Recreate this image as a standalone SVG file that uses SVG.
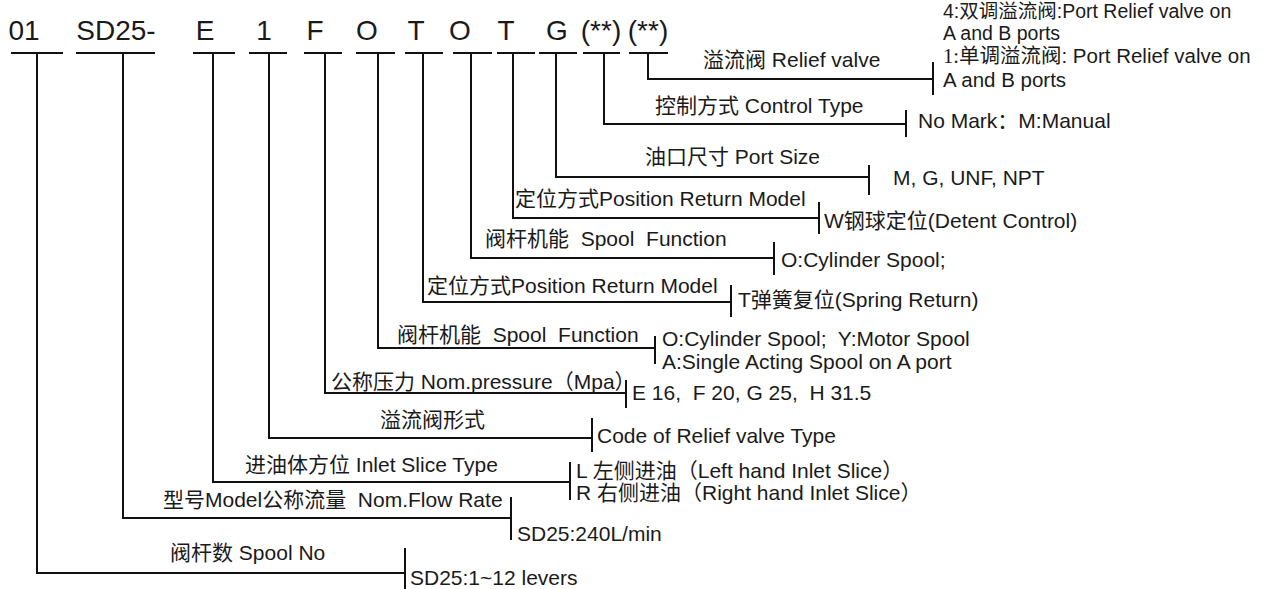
<svg xmlns="http://www.w3.org/2000/svg" width="1274" height="589" viewBox="0 0 1274 589">
<style>
.hd{font-family:"Liberation Sans",Arial,sans-serif;font-size:28px;fill:#1a1a1a;text-anchor:middle}
.t{font-family:"Liberation Sans","Noto Sans CJK SC",sans-serif;font-size:21px;fill:#1a1a1a}
.rv{font-size:20.5px}
.rs{font-size:19.5px}
.ln{stroke:#111;stroke-width:2;fill:none}
.sr{font-family:"Liberation Serif",serif}
</style>
<rect width="1274" height="589" fill="#fff"/>
<g id="code">
<text class="hd" x="24" y="40">01</text>
<text class="hd" x="116" y="40">SD25-</text>
<text class="hd" x="205" y="40">E</text>
<text class="hd" x="264" y="40">1</text>
<text class="hd" x="315" y="40">F</text>
<text class="hd" x="367" y="40">O</text>
<text class="hd" x="416" y="40">T</text>
<text class="hd" x="460" y="40">O</text>
<text class="hd" x="506" y="40">T</text>
<text class="hd" x="557" y="40">G</text>
<text class="hd" x="601" y="40">(**)</text>
<text class="hd" x="648" y="40">(**)</text>
</g>
<g id="connectors" class="ln">
<path d="M11 53H63M76 53H155M193 53H235M249 53H287M304 53H342M356 53H395M405 53H443M453 53H492M497 53H535M539 53H577M583 53H620M629 53H668"/>
<path d="M648 53V79H933M933 62V95"/>
<path d="M604 53V124H906M906 110V137"/>
<path d="M556 53V177H869M869 165V195"/>
<path d="M513 53V218H819M819 202V234"/>
<path d="M471 53V258H774M774 242V275"/>
<path d="M423 53V302H731M731 285V317"/>
<path d="M378 53V348H655M655 336V364"/>
<path d="M325 53V393H626M626 380V408"/>
<path d="M269 53V438H592M592 418V452"/>
<path d="M213 53V482H570M570 462V500"/>
<path d="M123 53V518H511M511 497V540"/>
<path d="M37 53V573H405M405 548V589"/>
</g>
<g id="relief">
<text class="t" x="703" y="67">溢流阀 Relief valve</text>
<text class="t rs" x="943" y="18">4:双调溢流阀:Port Relief valve on</text>
<text class="t rs" x="943" y="40">A and B ports</text>
<text class="t rv" x="943" y="63"><tspan class="sr">1:</tspan>单调溢流阀: Port Relief valve on</text>
<text class="t rv" x="943" y="87">A and B ports</text>
</g>
<g id="control">
<text class="t" x="655" y="113">控制方式 Control Type</text>
<text class="t" x="918" y="128">No Mark：M:Manual</text>
</g>
<g id="port">
<text class="t" x="645" y="164">油口尺寸 Port Size</text>
<text class="t" x="893" y="185">M, G, UNF, NPT</text>
</g>
<g id="position2">
<text class="t" x="515" y="206">定位方式Position Return Model</text>
<text class="t" x="824" y="228">W钢球定位(Detent Control)</text>
</g>
<g id="spool2">
<text class="t" x="485" y="246" xml:space="preserve">阀杆机能  Spool  Function</text>
<text class="t" x="781" y="267">O:Cylinder Spool;</text>
</g>
<g id="position1">
<text class="t" x="427" y="293">定位方式Position Return Model</text>
<text class="t" x="738" y="307">T弹簧复位(Spring Return)</text>
</g>
<g id="spool1">
<text class="t" x="397" y="342" xml:space="preserve">阀杆机能  Spool  Function</text>
<text class="t" x="662" y="346" xml:space="preserve">O:Cylinder Spool;  Y:Motor Spool</text>
<text class="t" x="662" y="369">A:Single Acting Spool on A port</text>
</g>
<g id="pressure">
<text class="t" x="331" y="389">公称压力 Nom.pressure（Mpa）</text>
<text class="t" x="632" y="400" xml:space="preserve">E 16,  F 20, G 25,  H 31.5</text>
</g>
<g id="relieftype">
<text class="t" x="380" y="427">溢流阀形式</text>
<text class="t" x="597" y="443">Code of Relief valve Type</text>
</g>
<g id="inlet">
<text class="t" x="245" y="472">进油体方位 Inlet Slice Type</text>
<text class="t" x="576" y="478">L 左侧进油（Left hand Inlet Slice）</text>
<text class="t" x="576" y="500">R 右侧进油（Right hand Inlet Slice）</text>
</g>
<g id="model">
<text class="t" x="163" y="507" xml:space="preserve">型号Model公称流量  Nom.Flow Rate</text>
<text class="t" x="517" y="541">SD25:240L/min</text>
</g>
<g id="spoolno">
<text class="t" x="170" y="560">阀杆数 Spool No</text>
<text class="t" x="410" y="585">SD25:1~12 levers</text>
</g>
</svg>
